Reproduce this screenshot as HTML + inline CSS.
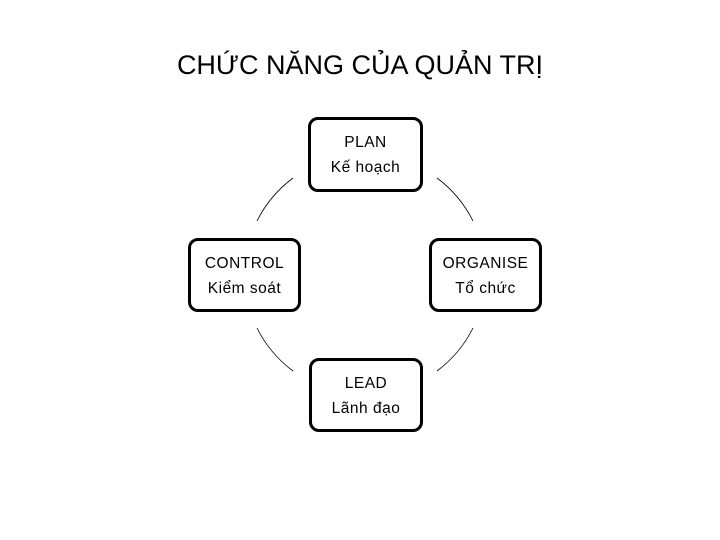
<!DOCTYPE html>
<html><head><meta charset="utf-8"><style>
body{margin:0;width:720px;height:540px;background:#fff;position:relative;overflow:hidden;font-family:"Liberation Sans",Arial,sans-serif}
.t{position:absolute;left:0;width:720px;top:50px;text-align:center;font-size:27px;color:#000}
.b{position:absolute;box-sizing:border-box;border:3px solid #000;border-radius:10px;background:#fff;text-align:center;font-size:15.5px;line-height:25px;padding-top:10px;letter-spacing:0.5px}
</style></head><body>
<div class="t">CHỨC NĂNG CỦA QUẢN TRỊ</div>
<svg width="720" height="540" style="position:absolute;left:0;top:0">
<g fill="none" stroke="#000" stroke-width="0.8">
<path d="M293 178 A121 121 0 0 0 257 221"/>
<path d="M437 178 A121 121 0 0 1 473 221"/>
<path d="M257 328 A121 121 0 0 0 293 371"/>
<path d="M473 328 A121 121 0 0 1 437 371"/>
</g></svg>
<div class="b" style="left:308px;top:117px;width:115px;height:75px">PLAN<br>Kế hoạch</div>
<div class="b" style="left:188px;top:238px;width:113px;height:74px">CONTROL<br>Kiểm soát</div>
<div class="b" style="left:429px;top:238px;width:113px;height:74px">ORGANISE<br>Tổ chức</div>
<div class="b" style="left:309px;top:358px;width:114px;height:74px">LEAD<br>Lãnh đạo</div>
</body></html>
